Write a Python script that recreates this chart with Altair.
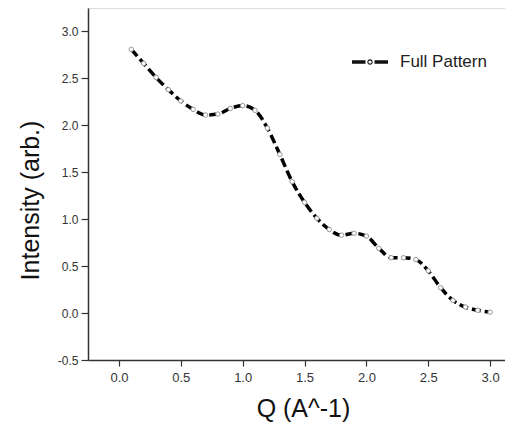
import altair as alt
import pandas as pd

q = [0.1, 0.2, 0.3, 0.4, 0.5, 0.6, 0.7, 0.8, 0.9, 1.0,
     1.1, 1.2, 1.3, 1.4, 1.5, 1.6, 1.7, 1.8, 1.9, 2.0,
     2.1, 2.2, 2.3, 2.4, 2.5, 2.6, 2.7, 2.8, 2.9, 3.0]
intensity = [2.81, 2.66, 2.51, 2.38, 2.26, 2.17, 2.11, 2.12, 2.18, 2.21,
             2.16, 1.97, 1.69, 1.40, 1.18, 1.01, 0.89, 0.83, 0.85, 0.82,
             0.69, 0.59, 0.59, 0.57, 0.45, 0.27, 0.135, 0.064, 0.03, 0.01]
series = ["Full Pattern"] * len(q)

x_ticks = [i * 0.25 for i in range(0, 13)]
y_ticks = [-0.5 + i * 0.25 for i in range(0, 15)]

df = pd.DataFrame({"Q": q, "I": intensity, "series": series})

FONT = "Liberation Sans"
major = "datum.value % 0.5 === 0"
label_expr = f"{major} ? replace(format(datum.value, '.1f'), '\u2212', '-') : ''"

x_enc = alt.X(
    "Q:Q",
    scale=alt.Scale(domain=[-0.25, 3.12], nice=False, zero=False),
    axis=alt.Axis(
        title="Q (A^-1)",
        values=x_ticks,
        labelExpr=label_expr,
        tickSize={"condition": {"test": major, "value": 6}, "value": 3},
        grid=False,
        labelFontSize=13,
        labelColor="#333",
        labelPadding=5,
        labelFont=FONT,
        titleFont=FONT,
        titleFontSize=25,
        titleFontWeight="normal",
        titleColor="#111",
        titleX=215,
        titleY=56,
        titleBaseline="alphabetic",
        titleAnchor="start",
        titleAlign="center",
        domainColor="#333",
        domainWidth=1.5,
        tickColor="#333",
        tickWidth=1.2,
    ),
)
y_enc = alt.Y(
    "I:Q",
    scale=alt.Scale(domain=[-0.5, 3.25], nice=False, zero=False),
    axis=alt.Axis(
        title="Intensity (arb.)",
        values=y_ticks,
        labelExpr=label_expr,
        tickSize={"condition": {"test": major, "value": 7}, "value": 3},
        grid=False,
        labelFontSize=12,
        labelColor="#333",
        labelPadding=3,
        labelFont=FONT,
        titleFont=FONT,
        titleFontSize=25,
        titleFontWeight="normal",
        titleColor="#111",
        titleX=-50,
        titleY=192,
        titleAngle=-90,
        titleBaseline="alphabetic",
        titleAlign="center",
        domainColor="#333",
        domainWidth=1.5,
        tickColor="#333",
        tickWidth=1.2,
    ),
)

legend_path = (
    "M-1,-0.1H-0.25V0.1H-1Z "
    "M0.25,-0.1H1V0.1H0.25Z "
    "M-0.15,0A0.15,0.15 0 1,0 0.15,0A0.15,0.15 0 1,0 -0.15,0Z "
    "M-0.09,0A0.09,0.09 0 1,1 0.09,0A0.09,0.09 0 1,1 -0.09,0Z"
)

line = alt.Chart(df).mark_line(
    strokeWidth=3.5, strokeDash=[9, 4], interpolate="monotone"
).encode(
    x=x_enc,
    y=y_enc,
    color=alt.Color(
        "series:N",
        scale=alt.Scale(range=["#000000"]),
        legend=alt.Legend(
            title=None,
            orient="none",
            legendX=264,
            legendY=36,
            symbolType=legend_path,
            symbolSize=1296,
            symbolStrokeWidth=0,
            symbolFillColor="#111",
            labelFont=FONT,
            labelFontSize=17,
            labelColor="#222",
            labelOffset=12,
        ),
    ),
)

points = alt.Chart(df).mark_point(
    filled=True, fill="white", stroke="#999", strokeWidth=1, size=20, opacity=1
).encode(x="Q:Q", y="I:Q")

chart = (line + points).properties(
    width=417,
    height=352,
    autosize=alt.AutoSizeParams(type="none"),
    padding={"left": 80, "top": 0, "right": 0, "bottom": 64},
).configure_view(stroke=None).configure(background="white")

chart.save("out.html", embed_options={"renderer": "svg", "actions": False})
